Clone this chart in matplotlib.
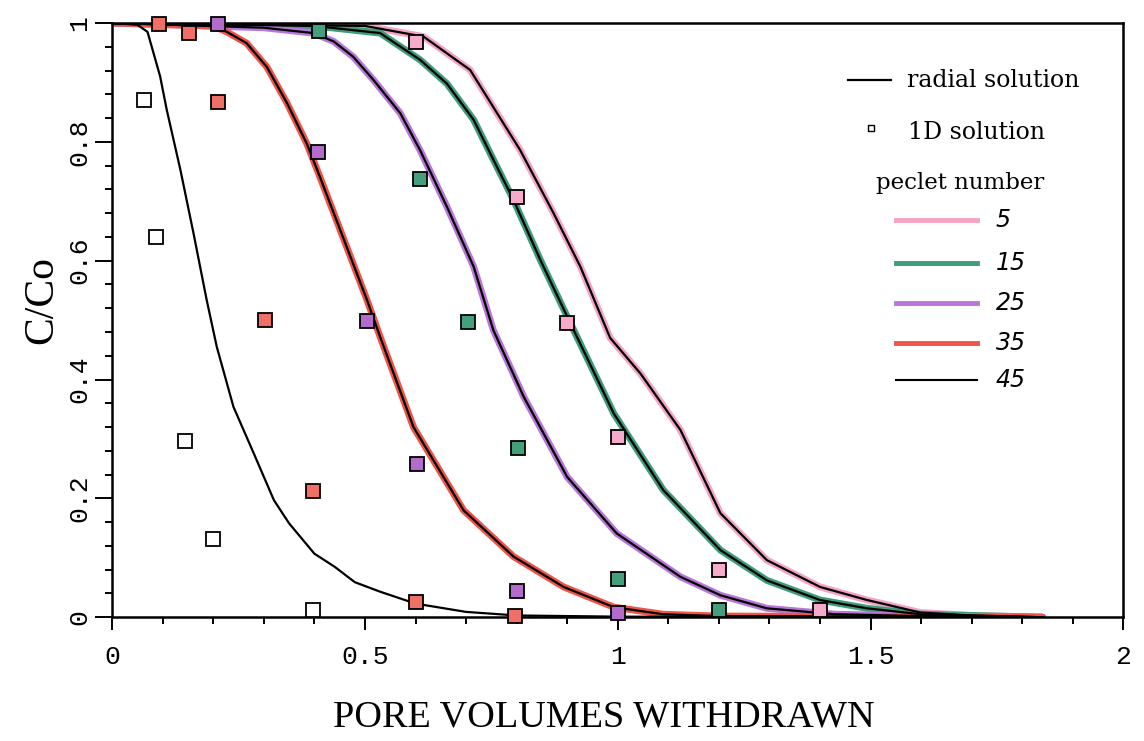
import matplotlib
matplotlib.use('Agg')
import matplotlib.pyplot as plt
from matplotlib.ticker import MultipleLocator

# radial solution curves (x = pore volumes, y = C/Co)
x_pe5 = [0, 0.5, 0.616, 0.708, 0.807, 0.873, 0.926, 0.985, 1.045, 1.124, 1.203, 1.295, 1.4, 1.493, 1.598, 1.7, 1.84]
y_pe5 = [1, 0.995, 0.977, 0.921, 0.786, 0.68, 0.59, 0.47, 0.41, 0.315, 0.175, 0.096, 0.051, 0.029, 0.008, 0.003, 0]

x_pe15 = [0, 0.4, 0.53, 0.609, 0.662, 0.715, 0.761, 0.794, 0.847, 0.9, 0.992, 1.09, 1.203, 1.295, 1.4, 1.493, 1.6, 1.84]
y_pe15 = [1, 0.995, 0.983, 0.938, 0.898, 0.837, 0.758, 0.702, 0.601, 0.506, 0.343, 0.214, 0.113, 0.062, 0.029, 0.015, 0.005, 0]

x_pe25 = [0, 0.3, 0.398, 0.438, 0.477, 0.517, 0.57, 0.609, 0.662, 0.715, 0.754, 0.814, 0.9, 0.998, 1.124, 1.203, 1.295, 1.43, 1.6, 1.84]
y_pe25 = [1, 0.992, 0.983, 0.969, 0.943, 0.904, 0.848, 0.786, 0.691, 0.59, 0.483, 0.371, 0.236, 0.141, 0.068, 0.037, 0.015, 0.005, 0.002, 0]

x_pe35 = [0, 0.2, 0.227, 0.266, 0.306, 0.346, 0.385, 0.411, 0.464, 0.504, 0.53, 0.596, 0.695, 0.794, 0.893, 0.992, 1.09, 1.2, 1.84]
y_pe35 = [1, 0.995, 0.985, 0.966, 0.926, 0.865, 0.797, 0.741, 0.623, 0.534, 0.472, 0.32, 0.18, 0.102, 0.051, 0.017, 0.005, 0.002, 0]

x_pe45 = [0, 0.05, 0.07, 0.095, 0.108, 0.135, 0.161, 0.187, 0.207, 0.24, 0.28, 0.32, 0.35, 0.4, 0.44, 0.48, 0.53, 0.6, 0.7, 0.8, 1.0, 1.84]
y_pe45 = [1, 0.997, 0.985, 0.91, 0.854, 0.753, 0.646, 0.534, 0.455, 0.354, 0.276, 0.197, 0.158, 0.107, 0.085, 0.059, 0.043, 0.023, 0.009, 0.003, 0.001, 0]

# 1D solution points
sq_x_pe5 = [0.6, 0.8, 0.9, 1.0, 1.2, 1.4]
sq_y_pe5 = [0.968, 0.707, 0.495, 0.303, 0.08, 0.013]
sq_x_pe15 = [0.41, 0.609, 0.704, 0.802, 1.0, 1.2]
sq_y_pe15 = [0.987, 0.737, 0.497, 0.284, 0.064, 0.012]
sq_x_pe25 = [0.21, 0.408, 0.504, 0.603, 0.8, 1.0]
sq_y_pe25 = [0.998, 0.783, 0.498, 0.258, 0.044, 0.007]
sq_x_pe35 = [0.093, 0.152, 0.21, 0.303, 0.398, 0.601, 0.797]
sq_y_pe35 = [0.998, 0.983, 0.867, 0.5, 0.212, 0.025, 0.002]
sq_x_pe45 = [0.063, 0.087, 0.144, 0.2, 0.398]
sq_y_pe45 = [0.87, 0.64, 0.296, 0.131, 0.012]

peclet = ['5', '15', '25', '35', '45']
colors = ['#f4a3c6', '#3e9c7a', '#b877d8', '#ee5448', 'black']
fills = ['#f5abc9', '#44a07c', '#b46ccc', '#f07068', 'white']

curves = [(x_pe5, y_pe5), (x_pe15, y_pe15), (x_pe25, y_pe25), (x_pe35, y_pe35), (x_pe45, y_pe45)]
points = [(sq_x_pe5, sq_y_pe5), (sq_x_pe15, sq_y_pe15), (sq_x_pe25, sq_y_pe25),
          (sq_x_pe35, sq_y_pe35), (sq_x_pe45, sq_y_pe45)]

fig = plt.figure(figsize=(11.44, 7.41), dpi=100)
ax = fig.add_axes([0.098, 0.167, 0.884, 0.802])

for (cx, cy), c in zip(curves, colors):
    if c != 'black':
        ax.plot(cx, cy, color=c, lw=5.0, solid_capstyle='round', zorder=2)
    ax.plot(cx, cy, color='black', lw=1.6, zorder=3)

for (px, py), f in zip(points, fills):
    ax.plot(px, py, 's', ms=10, mfc=f, mec='black', mew=1.3, ls='none', zorder=4, clip_on=False)

ax.set_xlim(0, 2)
ax.set_ylim(0, 1)
ax.xaxis.set_minor_locator(MultipleLocator(0.1))
ax.yaxis.set_minor_locator(MultipleLocator(0.04))
ax.set_xticks([0, 0.5, 1, 1.5, 2])
ax.set_xticklabels(['0', '0.5', '1', '1.5', '2'])
ax.set_yticks([0, 0.2, 0.4, 0.6, 0.8, 1])
ax.set_yticklabels(['0', '0.2', '0.4', '0.6', '0.8', '1'])

ax.tick_params(axis='both', which='both', direction='out', width=1.4, top=False, right=False)
ax.tick_params(axis='y', which='major', length=12, pad=3)
ax.tick_params(axis='y', which='minor', length=5)
ax.tick_params(axis='x', which='major', length=9, pad=11)
ax.tick_params(axis='x', which='minor', length=5)
for lab in ax.get_xticklabels() + ax.get_yticklabels():
    lab.set_fontfamily('Liberation Mono')
    lab.set_fontsize(19)
for lab in ax.get_yticklabels():
    lab.set_rotation(90)
    lab.set_va('center')

for s in ax.spines.values():
    s.set_linewidth(1.8)

ax.set_xlabel('PORE VOLUMES WITHDRAWN', fontfamily='Liberation Serif', fontsize=27.5)
ax.set_ylabel('C/Co', fontfamily='Liberation Serif', fontsize=30)
ax.xaxis.set_label_coords(0.486, -0.14)
ax.yaxis.set_label_coords(-0.05, 0.534)

# hand-made key
tr = ax.transAxes
ax.plot([0.728, 0.770], [0.904, 0.904], color='black', lw=1.6, transform=tr)
ax.text(0.786, 0.904, 'radial solution', transform=tr, fontfamily='DejaVu Serif', fontsize=17, va='center')
ax.plot([0.750], [0.823], 's', ms=5, mfc='white', mec='black', mew=1.0, transform=tr)
ax.text(0.787, 0.816, '1D solution', transform=tr, fontfamily='DejaVu Serif', fontsize=17, va='center')
ax.text(0.755, 0.731, 'peclet number', transform=tr, fontfamily='DejaVu Serif', fontsize=16.5, va='center')

key_y = [0.668, 0.596, 0.529, 0.461, 0.399]
for pe, c, ky in zip(peclet, colors, key_y):
    ax.plot([0.775, 0.855], [ky, ky], color=c, lw=3.5 if c != 'black' else 1.5, transform=tr)
    ax.text(0.874, ky, pe, transform=tr, fontfamily='DejaVu Sans', style='italic',
            fontsize=17, va='center')

fig.savefig('out.png', dpi=100)
